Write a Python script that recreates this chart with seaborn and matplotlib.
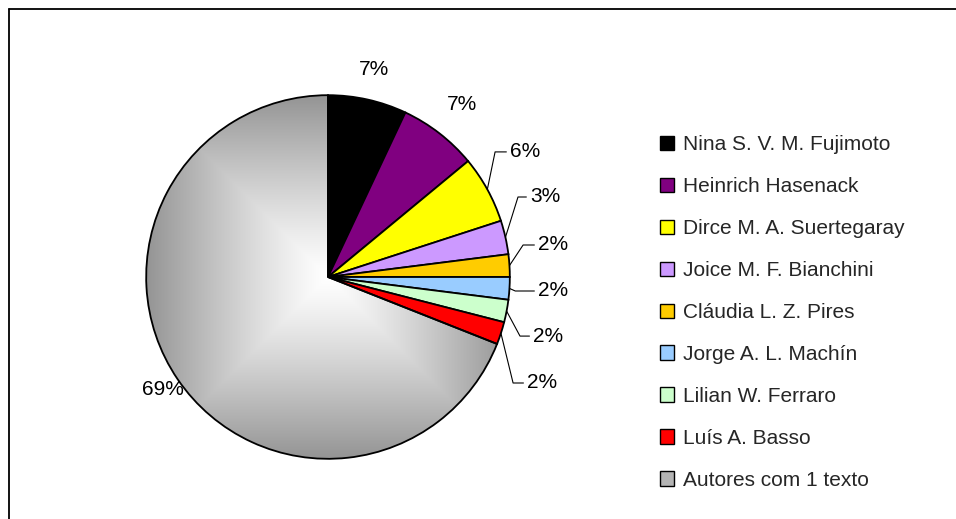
import numpy as np
import matplotlib
matplotlib.use("Agg")
import matplotlib.pyplot as plt
from matplotlib.patches import Patch
from matplotlib.lines import Line2D
import seaborn as sns

# Share of texts per author (percent)
authors = [
    "Nina S. V. M. Fujimoto",
    "Heinrich Hasenack",
    "Dirce M. A. Suertegaray",
    "Joice M. F. Bianchini",
    "Cláudia L. Z. Pires",
    "Jorge A. L. Machín",
    "Lilian W. Ferraro",
    "Luís A. Basso",
    "Autores com 1 texto",
]
shares = [7, 7, 6, 3, 2, 2, 2, 2, 69]
slice_colors = ["#000000", "#800080", "#FFFF00", "#CC99FF", "#FFCC00",
                "#99CCFF", "#CCFFCC", "#FF0000", "#B4B4B4"]

sns.set_theme(style="white")
plt.rcParams["font.family"] = ["Liberation Sans", "DejaVu Sans"]
FS = 15

W, H = 956, 519
fig = plt.figure(figsize=(W / 100, H / 100), dpi=100)
fig.patch.set_facecolor("white")

# pie centre at (328, 277) px, radius ~182 px
cx, cy, half = 328, 277, 200
ax = fig.add_axes([(cx - half) / W, (H - cy - half) / H, 2 * half / W, 2 * half / H])

wedges, _ = ax.pie(
    shares, colors=slice_colors, startangle=90, counterclock=False,
    radius=1, center=(0, 0), frame=True,
    wedgeprops=dict(edgecolor="black", linewidth=1.3),
)
ax.set_xlim(-1.1, 1.1)
ax.set_ylim(-1.1, 1.1)
ax.set_aspect("equal")
ax.axis("off")

# Centre-out grey fill for the "one text" slice
n = 500
g = np.linspace(-1, 1, n)
gx, gy = np.meshgrid(g, g)
t = np.maximum(np.abs(gx), np.abs(gy))
shade = 1.0 - 0.42 * t ** 1.2
img = np.dstack([shade, shade, shade])
big = wedges[-1]
big.set_facecolor("none")
im = ax.imshow(img, extent=(-1, 1, -1, 1), origin="lower", zorder=0.5,
               interpolation="bilinear")
im.set_clip_path(big)
big.set_zorder(1)

# percentage labels
mids = []
acc = 0.0
for v in shares:
    mids.append(np.deg2rad(90 - (acc + v / 2) * 3.6))
    acc += v

def pct(v):
    return f"{v:d}%"

# labels without leader lines: (index, radius)
for i, r in [(0, 1.17), (1, 1.2), (8, 1.1)]:
    ax.text(r * np.cos(mids[i]), r * np.sin(mids[i]), pct(shares[i]),
            ha="center", va="center", fontsize=FS, color="black")

# labels with leader lines: (index, elbow x, text x, text y)
leaders = [
    (2, 0.919, 1.001, 0.688),
    (3, 1.045, 1.111, 0.440),
    (4, 1.073, 1.155, 0.176),
    (5, 1.030, 1.155, -0.077),
    (6, 1.056, 1.128, -0.325),
    (7, 1.018, 1.095, -0.583),
]
for i, ex, tx, ty in leaders:
    sx, sy = np.cos(mids[i]), np.sin(mids[i])
    ax.plot([sx, ex, tx - 0.02], [sy, ty, ty], color="black", lw=0.8,
            clip_on=False, zorder=3)
    ax.text(tx, ty, pct(shares[i]), ha="left", va="center", fontsize=FS,
            color="black")

# legend
handles = [Patch(facecolor=c, edgecolor="black", linewidth=1.0) for c in slice_colors]
fig.legend(handles, authors, loc="center left",
           bbox_to_anchor=(660 / W, 1 - 312.5 / H), frameon=False,
           fontsize=FS, handlelength=0.68, handleheight=0.68,
           handletextpad=0.42, labelspacing=1.1, borderaxespad=0,
           borderpad=0)

# chart-area border (top and left edges)
fig.add_artist(Line2D([8.5 / W, 1.0], [1 - 9 / H, 1 - 9 / H], color="black",
                      lw=1.3, transform=fig.transFigure))
fig.add_artist(Line2D([8.5 / W, 8.5 / W], [0.0, 1 - 9 / H], color="black",
                      lw=1.3, transform=fig.transFigure))

fig.savefig("out.png", dpi=100, facecolor="white")
